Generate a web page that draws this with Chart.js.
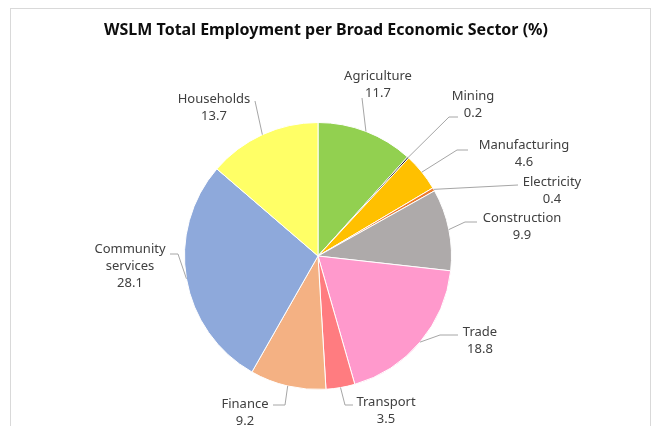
<!DOCTYPE html>
<html>
<head>
<meta charset="utf-8">
<script src="https://cdn.jsdelivr.net/npm/chart.js@4/dist/chart.umd.min.js"></script>
<style>
  html, body { margin: 0; padding: 0; background: #ffffff; }
  #wrap { width: 653px; height: 426px; position: relative; }
</style>
</head>
<body>
<div id="wrap"><canvas id="chart" width="653" height="426"></canvas></div>
<script>
// Employment share per broad economic sector (%)
const categories = [
  'Agriculture', 'Mining', 'Manufacturing', 'Electricity', 'Construction',
  'Trade', 'Transport', 'Finance', 'Community services', 'Households'
];
const shares = [11.7, 0.2, 4.6, 0.4, 9.9, 18.8, 3.5, 9.2, 28.1, 13.7];
const sliceColors = [
  '#92D050', '#1A1A1A', '#FFC000', '#ED7D31', '#AEAAAA',
  '#FF99CC', '#FF7C80', '#F4B183', '#8EA9DB', '#FFFF66'
];
const chartTitle = 'WSLM Total Employment per Broad Economic Sector (%)';

// Label placement relative to the pie centre: text centre of the first line,
// optional elbow of the leader line, and the leader end next to the text.
const labelLayout = [
  { tx: 60,   ty: -180, end: [44, -158] },
  { tx: 155,  ty: -160, elbow: [131, -139], end: [140, -139] },
  { tx: 206,  ty: -111, elbow: [139, -106], end: [150, -106] },
  { tx: 234,  ty: -74,  end: [200, -71] },
  { tx: 204,  ty: -38,  elbow: [147, -34], end: [159, -34] },
  { tx: 162,  ty: 76,   elbow: [122, 79], end: [140, 79] },
  { tx: 68,   ty: 146,  elbow: [27, 149], end: [35, 149] },
  { tx: -73,  ty: 148,  elbow: [-33, 149], end: [-45, 149] },
  { tx: -188, ty: -7,   elbow: [-140, -2], end: [-148, -2] },
  { tx: -104, ty: -157, end: [-63, -155] }
];

const FONT = '"Noto Sans", "Open Sans", sans-serif';

const frameAndTitle = {
  id: 'frameAndTitle',
  beforeDraw(chart) {
    const ctx = chart.ctx;
    ctx.save();
    ctx.fillStyle = '#ffffff';
    ctx.fillRect(0, 0, chart.width, chart.height);
    ctx.strokeStyle = '#D9D9D9';
    ctx.lineWidth = 1;
    ctx.strokeRect(10.5, 8.5, 640, 440);
    ctx.fillStyle = '#0D0D0D';
    ctx.font = 'bold 16px ' + FONT;
    ctx.textAlign = 'center';
    ctx.textBaseline = 'middle';
    ctx.fillText(chartTitle, 326, 30);
    ctx.restore();
  }
};

const sliceLabels = {
  id: 'sliceLabels',
  afterDatasetsDraw(chart) {
    const ctx = chart.ctx;
    const meta = chart.getDatasetMeta(0);
    ctx.save();
    meta.data.forEach((arc, i) => {
      const p = arc.getProps(['x', 'y', 'startAngle', 'endAngle', 'outerRadius'], true);
      const cx = p.x, cy = p.y;
      const mid = (p.startAngle + p.endAngle) / 2;
      const sx = cx + Math.cos(mid) * p.outerRadius;
      const sy = cy + Math.sin(mid) * p.outerRadius;
      const lay = labelLayout[i];

      // leader line
      ctx.strokeStyle = '#A6A6A6';
      ctx.lineWidth = 1;
      ctx.beginPath();
      ctx.moveTo(sx, sy);
      if (lay.elbow) ctx.lineTo(cx + lay.elbow[0], cy + lay.elbow[1]);
      ctx.lineTo(cx + lay.end[0], cy + lay.end[1]);
      ctx.stroke();

      // name (wrapped when long) and value
      const name = categories[i];
      const lines = name.length > 14 ? name.split(' ') : [name];
      lines.push(String(chart.data.datasets[0].data[i]));
      ctx.fillStyle = '#404040';
      ctx.font = '13px ' + FONT;
      ctx.textAlign = 'center';
      ctx.textBaseline = 'middle';
      lines.forEach((ln, k) => {
        ctx.fillText(ln, cx + lay.tx, cy + lay.ty + k * 17);
      });
    });
    ctx.restore();
  }
};

new Chart(document.getElementById('chart'), {
  type: 'pie',
  data: {
    labels: categories,
    datasets: [{
      data: shares,
      backgroundColor: sliceColors,
      borderColor: '#ffffff',
      borderWidth: 1
    }]
  },
  options: {
    responsive: false,
    animation: false,
    events: [],
    layout: { padding: { left: 184, right: 201, top: 122, bottom: 36 } },
    plugins: {
      legend: { display: false },
      title: { display: false },
      tooltip: { enabled: false }
    }
  },
  plugins: [frameAndTitle, sliceLabels]
});
</script>
</body>
</html>
